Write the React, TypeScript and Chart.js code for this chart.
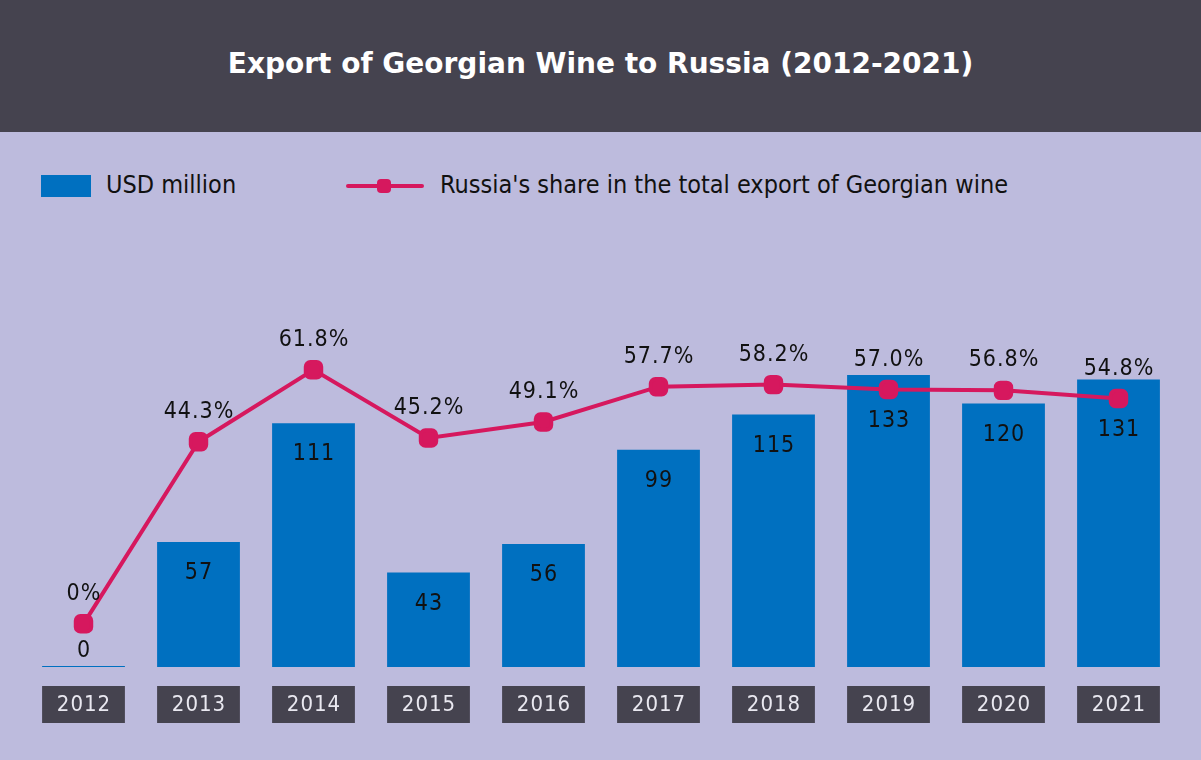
import React, { useEffect, useRef } from "react";
import { Chart, registerables } from "chart.js";

Chart.register(...registerables);

const years = ["2012", "2013", "2014", "2015", "2016", "2017", "2018", "2019", "2020", "2021"];
const exportUsd = [0, 57, 111, 43, 56, 99, 115, 133, 120, 131];
const russiaShare = [0, 44.3, 61.8, 45.2, 49.1, 57.7, 58.2, 57.0, 56.8, 54.8];

const BLUE = "#0070c0";
const PINK = "#d6185e";
const DARK = "#45434f";
const BG = "#bdbbdd";
const FONT = "'DejaVu Sans Condensed', 'DejaVu Sans', sans-serif";

const labelPlugin = {
  id: "customLabels",
  afterDatasetsDraw(chart: any) {
    const ctx = chart.ctx;
    const barMeta = chart.getDatasetMeta(1);
    const lineMeta = chart.getDatasetMeta(0);
    ctx.save();
    ctx.textAlign = "center";
    ctx.textBaseline = "middle";
    try { ctx.letterSpacing = "1px"; } catch (e) {}
    barMeta.data.forEach((bar: any, i: number) => {
      const pt = lineMeta.data[i];
      const v = exportUsd[i];
      // x label box
      const w = bar.width;
      ctx.fillStyle = DARK;
      ctx.fillRect(bar.x - w / 2, bar.base + 19, w, 37);
      ctx.fillStyle = "#e9e8f0";
      ctx.font = `22px ${FONT}`;
      ctx.fillText(years[i], bar.x + 0.5, bar.base + 38);
      // bar value label
      ctx.fillStyle = "#111111";
      ctx.font = `23px ${FONT}`;
      const by = v === 0 ? bar.base - 16 : Math.max(bar.y, pt.y) + 31;
      ctx.fillText(String(v), bar.x + 0.5, by);
      // percent label
      const s = russiaShare[i];
      const txt = s === 0 ? "0%" : s.toFixed(1) + "%";
      ctx.fillText(txt, pt.x + 0.5, pt.y - 30);
    });
    ctx.restore();
  },
};

function ChartCanvas() {
  const ref = useRef<HTMLCanvasElement>(null);
  useEffect(() => {
    if (!ref.current) return;
    const chart = new Chart(ref.current, {
      type: "bar",
      data: {
        labels: years,
        datasets: [
          {
            type: "line",
            label: "Russia's share in the total export of Georgian wine",
            data: russiaShare,
            yAxisID: "y2",
            borderColor: PINK,
            backgroundColor: PINK,
            borderWidth: 4,
            pointStyle: "rectRounded",
            pointRadius: 9,
            pointHoverRadius: 9,
            tension: 0,
            order: 0,
          } as any,
          {
            type: "bar",
            label: "USD million",
            data: exportUsd,
            yAxisID: "y",
            backgroundColor: BLUE,
            barPercentage: 0.72,
            categoryPercentage: 1,
            minBarLength: 1,
            order: 1,
          },
        ],
      },
      options: {
        animation: false,
        responsive: false,
        maintainAspectRatio: false,
        layout: { padding: { left: 26, right: 25, top: 96, bottom: 93 } },
        plugins: { legend: { display: false }, tooltip: { enabled: false } },
        scales: {
          x: { display: false },
          y: { display: false, min: 0, max: 200 },
          y2: { display: false, min: -10.5, max: 96.3, position: "right" },
        },
      },
      plugins: [labelPlugin],
    });
    return () => chart.destroy();
  }, []);
  return <canvas ref={ref} width={1201} height={628} style={{ position: "absolute", left: 0, top: 132, width: 1201, height: 628 }} />;
}

export default function App() {
  return (
    <div style={{ position: "fixed", left: 0, top: 0, width: 1201, height: 760, background: BG, overflow: "hidden", fontFamily: FONT }}>
      <div style={{ position: "absolute", left: 0, top: 0, width: 1201, height: 132, background: DARK, display: "flex", alignItems: "center", justifyContent: "center" }}>
        <div style={{ color: "#ffffff", fontFamily: "'DejaVu Sans', sans-serif", fontWeight: "bold", fontSize: 28, marginTop: -6 }}>
          Export of Georgian Wine to Russia (2012-2021)
        </div>
      </div>
      <div style={{ position: "absolute", left: 41, top: 175, width: 50, height: 22, background: BLUE }} />
      <div style={{ position: "absolute", left: 106, top: 170, fontSize: 25, color: "#111", lineHeight: "30px" }}>USD million</div>
      <div style={{ position: "absolute", left: 346, top: 184, width: 78, height: 4, background: PINK, borderRadius: 2 }} />
      <div style={{ position: "absolute", left: 377, top: 179, width: 14, height: 14, background: PINK, borderRadius: 4 }} />
      <div style={{ position: "absolute", left: 440, top: 170, fontSize: 25, color: "#111", lineHeight: "30px" }}>
        Russia's share in the total export of Georgian wine
      </div>
      <ChartCanvas />
    </div>
  );
}
